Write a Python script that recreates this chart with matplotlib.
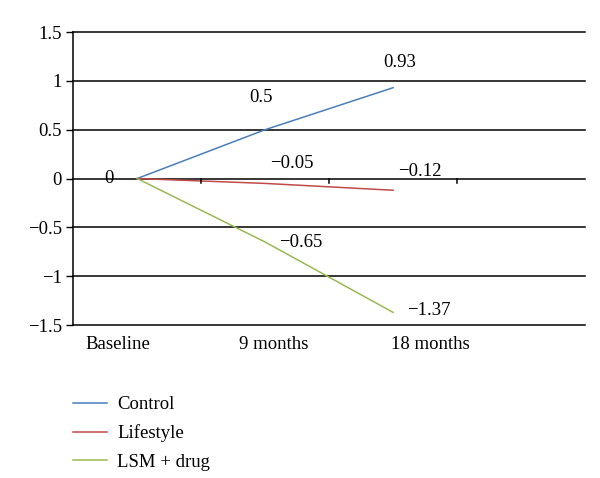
import matplotlib
matplotlib.use("Agg")
import matplotlib.pyplot as plt

# data
categories = ["Baseline", "9 months", "18 months"]
control = [0, 0.5, 0.93]
lifestyle = [0, -0.05, -0.12]
lsm_drug = [0, -0.65, -1.37]
series_names = ["Control", "Lifestyle", "LSM + drug"]
yticks = [-1.5, -1, -0.5, 0, 0.5, 1, 1.5]

plt.rcParams['font.family'] = ['Liberation Serif', 'DejaVu Serif']
plt.rcParams['font.size'] = 13.5

fig = plt.figure(figsize=(6, 4.78), dpi=100)
ax = fig.add_axes([0.122, 0.32, 0.853, 0.613])

colors = ['#4a7ebb', '#be4b48', '#98b954']
x = list(range(len(categories)))
lines = []
for vals, c, name in zip([control, lifestyle, lsm_drug], colors, series_names):
    ln, = ax.plot(x, vals, color=c, lw=1.1, label=name)
    lines.append(ln)

ax.set_xlim(-0.5, 3.5)
ax.set_ylim(-1.5, 1.5)
ax.set_yticks(yticks)
ax.set_yticklabels(['\u22121.5', '\u22121', '\u22120.5', '0', '0.5', '1', '1.5'])
for yv in yticks:
    ax.axhline(yv, color='black', lw=1.1, zorder=0, clip_on=False)

for s in ['top', 'right', 'bottom']:
    ax.spines[s].set_visible(False)
ax.spines['left'].set_linewidth(1.1)
ax.tick_params(axis='y', length=5, width=1.0, pad=3)
ax.set_xticks([])

# category boundary ticks on the zero line
for b in [0.5, 1.5, 2.5]:
    ax.plot([b, b], [0, -0.045], color='black', lw=1.1, clip_on=False)

# category labels
label_x = [-0.15, 1.07, 2.29]
for lx, lab in zip(label_x, categories):
    ax.text(lx, -1.61, lab, ha='center', va='top')

# data labels
def fmt(v):
    s = ('%g' % v)
    return s.replace('-', '\u2212')

offsets = {
    (0, 0): (-0.22, 0.0),
    (0, 1): (-0.03, 0.33),
    (0, 2): (0.05, 0.26),
    (1, 1): (0.21, 0.2),
    (1, 2): (0.21, 0.19),
    (2, 1): (0.28, 0.0),
    (2, 2): (0.28, 0.02),
}
allv = [control, lifestyle, lsm_drug]
for (si, pi), (dx, dy) in offsets.items():
    v = allv[si][pi]
    ax.text(pi + dx, v + dy, fmt(v), ha='center', va='center')

fig.legend(handles=lines, labels=series_names, loc='upper left',
           bbox_to_anchor=(0.109, 0.187), frameon=False, handlelength=1.8,
           handletextpad=0.55, labelspacing=0.6, borderaxespad=0)

fig.savefig('out.png', dpi=100)
